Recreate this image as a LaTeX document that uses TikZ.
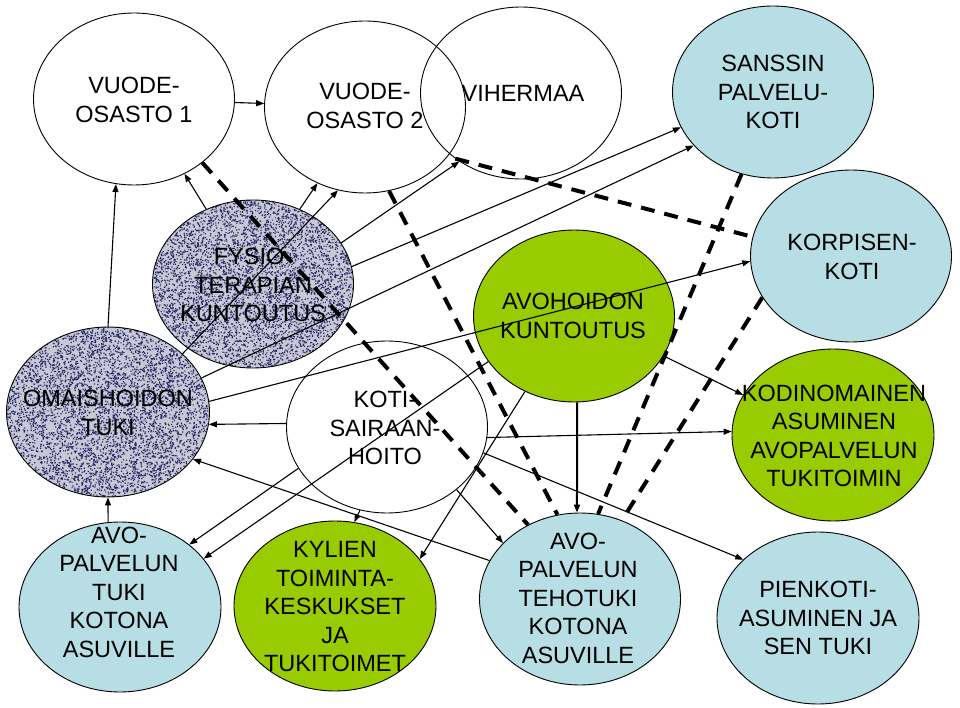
\documentclass[tikz,border=0pt]{standalone}
\usepackage{fontspec}
\setmainfont{Liberation Sans}
\usetikzlibrary{arrows.meta,shapes.geometric}
\definecolor{grn}{RGB}{153,204,0}
\definecolor{lblue}{RGB}{183,222,228}
\definecolor{gtex}{RGB}{200,200,214}
\definecolor{dotc}{RGB}{40,40,100}
\begin{document}
\begin{tikzpicture}[x=1pt,y=-1pt,
  ell/.style={ellipse, draw=black, line width=0.9pt, inner sep=0pt, minimum width=201pt, minimum height=172pt},
  txt/.style={align=center, font=\fontsize{23.5}{28.5}\selectfont, inner sep=0pt},
  arr/.style={-{Triangle[length=8pt,width=6pt]}, line width=1.1pt},
  dsh/.style={line width=4pt, dash pattern=on 14pt off 10pt}]
\useasboundingbox (0,0) rectangle (960,708);
\fill[white] (0,0) rectangle (960,708);
\pgfmathsetseed{7}
% textured fills
\begin{scope}[shift={(253,284)}]
  \clip (0,0) ellipse [x radius=100, y radius=84];
  \fill[gtex] (-101,-85) rectangle (101,85);
  \foreach \k in {1,2,3} {
    \fill[dotc] \foreach \i in {1,...,2150} {(rand*101,rand*85) rectangle ++(1.2,1.2)};
  }
\end{scope}
\begin{scope}[shift={(108,412)}]
  \clip (0,0) ellipse [x radius=101, y radius=85];
  \fill[gtex] (-102,-86) rectangle (102,86);
  \foreach \k in {1,2,3} {
    \fill[dotc] \foreach \i in {1,...,2200} {(rand*102,rand*86) rectangle ++(1.2,1.2)};
  }
\end{scope}
% ellipses
\node[ell] (vo1) at (134,99) {};
\node[ell] (vo2) at (365,107) {};
\node[ell] (vih) at (521,93) {};
\node[ell, fill=lblue] (san) at (773,92) {};
\node[ell, fill=lblue] (kor) at (851,256) {};
\node[ell, minimum height=168pt] (fys) at (253,284) {};
\node[ell, minimum width=203pt, minimum height=170pt] (oma) at (108,412) {};
\node[ell] (koti) at (387,427) {};
\node[ell, fill=grn] (avoh) at (574,316) {};
\node[ell, fill=grn, minimum width=202pt] (kod) at (833,435) {};
\node[ell, fill=lblue, minimum width=202pt, minimum height=170pt] (tuki) at (120,607) {};
\node[ell, fill=grn, minimum width=202pt, minimum height=170pt] (kyl) at (335,606) {};
\node[ell, fill=lblue] (teho) at (580,599) {};
\node[ell, fill=lblue, minimum width=202pt] (pien) at (818,618) {};
% texts
\node[txt] (tvo1) at (134,100) {VUODE-\\OSASTO 1};
\node[txt] (tvo2) at (365,106) {VUODE-\\OSASTO 2};
\node[txt] (tvih) at (523,93) {VIHERMAA};
\node[txt] (tsan) at (773,92) {SANSSIN\\PALVELU-\\KOTI};
\node[txt] (tkor) at (852,257) {KORPISEN-\\KOTI};
\node[txt] (tfys) at (253,285) {FYSIO-\\TERAPIAN\\KUNTOUTUS};
\node[txt] (toma) at (108,413) {OMAISHOIDON\\TUKI};
\node[txt] (tkoti) at (385,428) {KOTI-\\SAIRAAN-\\HOITO};
\node[txt] (tavoh) at (573,316) {AVOHOIDON\\KUNTOUTUS};
\node[txt] (tkod) at (834,436) {KODINOMAINEN\\ASUMINEN\\AVOPALVELUN\\TUKITOIMIN};
\node[txt] (ttuki) at (119,592) {AVO-\\PALVELUN\\TUKI\\KOTONA\\ASUVILLE};
\node[txt] (tkyl) at (335,607) {KYLIEN\\TOIMINTA-\\KESKUKSET\\JA\\TUKITOIMET};
\node[txt] (tteho) at (578,598) {AVO-\\PALVELUN\\TEHOTUKI\\KOTONA\\ASUVILLE};
\node[txt] (tpien) at (818,618) {PIENKOTI-\\ASUMINEN JA\\SEN TUKI};
% solid arrows
\draw[arr] (vo1.-2) -- (vo2.178);
\draw[arr] (oma.90) -- (vo1.-102);
\draw[arr] (fys.122) -- (vo1.-56);
\draw[arr] (fys.58) -- (vo2.-122);
\draw[arr] (oma.38) -- (vo2.-108);
\draw[arr] (fys.25) -- (vih.-132);
\draw[arr] (fys.10) -- (san.-159);
\draw[arr] (oma.20) -- (san.-146);
\draw[arr] (oma.6) -- (kor.-177);
\draw[arr] (koti.178) -- (oma.-7);
\draw[arr] (teho.157) -- (oma.-29);
\draw[arr] (tuki.98) -- (oma.-90);
\draw[arr] (koti.-155) -- (tuki.42);
\draw[arr] (avoh.-152) -- (tuki.30);
\draw[arr] (koti.-108) -- (kyl.77);
\draw[arr] (avoh.-123) -- (kyl.29);
\draw[arr] (koti.-42) -- (teho.144);
\draw[arr, line width=2pt] (avoh.-88) -- (teho.92);
\draw[arr] (koti.-6) -- (kod.178);
\draw[arr] (koti.-15) -- (pien.142);
\draw[arr] (avoh.-24) -- (kod.156);
% dashed
\draw[dsh] (vo1.-43) -- (teho.125);
\draw[dsh] (vo2.-74) -- (teho.105);
\draw[dsh] (vih.-135) -- (kor.169);
\draw[dsh] (san.-111) -- (teho.78);
\draw[dsh] (kor.-155) -- (teho.62);
\end{tikzpicture}
\end{document}
